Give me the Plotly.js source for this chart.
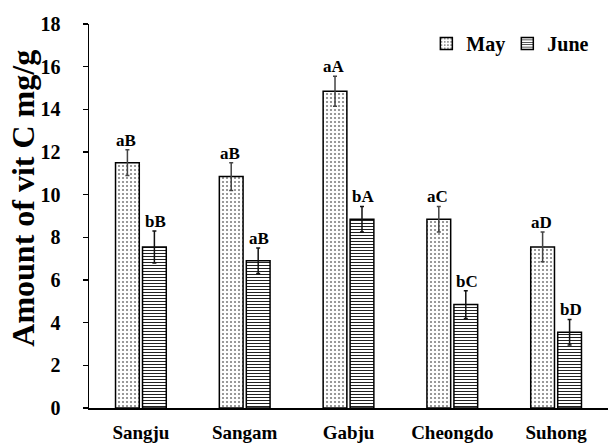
<!DOCTYPE html>
<html>
<head>
<meta charset="utf-8">
<script src="https://cdn.plot.ly/plotly-3.0.1.min.js"></script>
<style>html,body{margin:0;padding:0;background:#fff}#chart{width:609px;height:445px}</style>
</head>
<body>
<div id="chart"></div>
<script>
const categories = ["Sangju", "Sangam", "Gabju", "Cheongdo", "Suhong"];
const mayValues = [11.5, 10.85, 14.85, 8.85, 7.55];
const mayErrors = [0.6, 0.65, 0.7, 0.6, 0.7];
const mayLabels = ["aB", "aB", "aA", "aC", "aD"];
const juneValues = [7.55, 6.9, 8.85, 4.85, 3.55];
const juneErrors = [0.75, 0.6, 0.6, 0.65, 0.6];
const juneLabels = ["bB", "aB", "bA", "bC", "bD"];
const yTicks = [0, 2, 4, 6, 8, 10, 12, 14, 16, 18];
const yTitle = "Amount of vit C mg/g";

const FONT = "'Times New Roman', 'Liberation Serif', 'DejaVu Serif', serif";
const bold = s => "<b>" + s + "</b>";

const traces = [
  {
    type: "bar", name: bold("May"), x: categories, y: mayValues, legend: "legend",
    error_y: {type: "data", array: mayErrors, visible: true, color: "#444", thickness: 1.5, width: 2},
    marker: {color: "white", line: {color: "black", width: 1.5},
      pattern: {shape: ".", fgcolor: "#808080", bgcolor: "white", size: 4, solidity: 0.22}}
  },
  {
    type: "bar", name: bold("June"), x: categories, y: juneValues, legend: "legend2",
    error_y: {type: "data", array: juneErrors, visible: true, color: "#111", thickness: 1.5, width: 2},
    marker: {color: "white", line: {color: "black", width: 1.5},
      pattern: {shape: "-", fgcolor: "#222", bgcolor: "white", size: 3, solidity: 0.35}}
  }
];

const annotations = [];
categories.forEach((c, i) => {
  annotations.push({x: c, y: mayValues[i] + mayErrors[i], text: bold(mayLabels[i]), xref: "x", yref: "y",
    showarrow: false, yanchor: "bottom", xshift: -14.5, yshift: -2,
    font: {family: FONT, size: 17, color: "black"}});
  annotations.push({x: c, y: juneValues[i] + juneErrors[i], text: bold(juneLabels[i]), xref: "x", yref: "y",
    showarrow: false, yanchor: "bottom", xshift: 14.5, yshift: -2,
    font: {family: FONT, size: 17, color: "black"}});
});
annotations.push({text: bold(yTitle), xref: "paper", yref: "paper", x: 0, y: 0.545,
  xanchor: "center", yanchor: "middle", xshift: -66, textangle: -90, showarrow: false,
  font: {family: FONT, size: 32, color: "black"}});

const legendBase = {orientation: "h", y: 1.0, yanchor: "top", xanchor: "left",
  font: {family: FONT, size: 20, color: "black"}, itemwidth: 30, bgcolor: "rgba(0,0,0,0)"};

const layout = {
  width: 609, height: 445,
  margin: {l: 89, r: 1, t: 24, b: 37},
  paper_bgcolor: "white", plot_bgcolor: "white",
  barmode: "group", bargap: 0.48, bargroupgap: 0.12,
  font: {family: FONT, color: "black"},
  showlegend: true,
  legend: Object.assign({}, legendBase, {x: 0.65}),
  legend2: Object.assign({}, legendBase, {x: 0.806}),
  xaxis: {showline: true, linecolor: "black", linewidth: 1.5, ticks: "", showgrid: false,
    tickvals: categories, ticktext: categories.map(bold), ticklabelstandoff: 7,
    tickfont: {family: FONT, size: 19, color: "black"}, fixedrange: true},
  yaxis: {range: [0, 18], tickvals: yTicks, ticktext: yTicks.map(v => bold(v)), showline: true, linecolor: "black", linewidth: 1.5,
    ticks: "outside", ticklen: 5, tickwidth: 1.5, tickcolor: "black", showgrid: false, zeroline: false,
    ticklabelstandoff: 18,
    tickfont: {family: FONT, size: 20, color: "black"}},
  annotations: annotations
};

Plotly.newPlot("chart", traces, layout, {displayModeBar: false, staticPlot: true});
</script>
</body>
</html>
